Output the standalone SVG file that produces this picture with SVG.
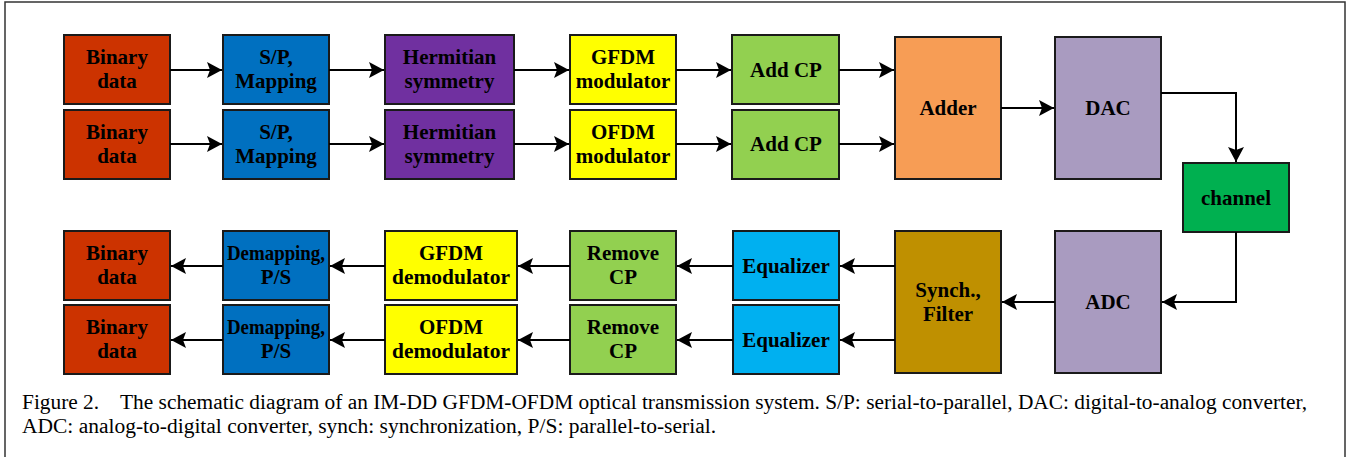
<svg xmlns="http://www.w3.org/2000/svg" width="1351" height="457" viewBox="0 0 1351 457">
<defs>
<marker id="ah" markerUnits="userSpaceOnUse" markerWidth="16" markerHeight="16" refX="15" refY="8" orient="auto">
<path d="M0,0 L15,8 L0,16 L3,8 Z" fill="#000"/>
</marker>
<style>
.b{stroke:#1a1a1a;stroke-width:2}
.t{font-family:"Liberation Serif","Times New Roman",serif;font-weight:bold;font-size:21px;fill:#000;text-anchor:middle}
.c{stroke:#000;stroke-width:2;fill:none}
.a{marker-end:url(#ah)}
.cap{font-family:"Liberation Serif","Times New Roman",serif;font-size:20px;fill:#000}
</style>
</defs>
<rect width="1351" height="457" fill="#fff"/>
<rect x="5" y="2" width="1340" height="470" fill="none" stroke="#333" stroke-width="1.5"/>

<g id="bin1"><rect class="b" x="64" y="35" width="106" height="69" fill="#CC3300"/><text class="t" x="117" y="64">Binary</text><text class="t" x="117" y="88">data</text></g>
<g id="bin2"><rect class="b" x="64" y="110" width="106" height="69" fill="#CC3300"/><text class="t" x="117" y="139">Binary</text><text class="t" x="117" y="163">data</text></g>
<g id="sp1"><rect class="b" x="223" y="35" width="106" height="69" fill="#0070C0"/><text class="t" x="276" y="64">S/P,</text><text class="t" x="276" y="88">Mapping</text></g>
<g id="sp2"><rect class="b" x="223" y="110" width="106" height="69" fill="#0070C0"/><text class="t" x="276" y="139">S/P,</text><text class="t" x="276" y="163">Mapping</text></g>
<g id="herm1"><rect class="b" x="385" y="35" width="129" height="69" fill="#7030A0"/><text class="t" x="449.5" y="64">Hermitian</text><text class="t" x="449.5" y="88">symmetry</text></g>
<g id="herm2"><rect class="b" x="385" y="110" width="129" height="69" fill="#7030A0"/><text class="t" x="449.5" y="139">Hermitian</text><text class="t" x="449.5" y="163">symmetry</text></g>
<g id="gmod"><rect class="b" x="570" y="35" width="106" height="69" fill="#FFFF00"/><text class="t" x="623" y="64">GFDM</text><text class="t" x="623" y="88">modulator</text></g>
<g id="omod"><rect class="b" x="570" y="110" width="106" height="69" fill="#FFFF00"/><text class="t" x="623" y="139">OFDM</text><text class="t" x="623" y="163">modulator</text></g>
<g id="acp1"><rect class="b" x="732" y="35" width="107" height="69" fill="#92D050"/><text class="t" x="786" y="77">Add CP</text></g>
<g id="acp2"><rect class="b" x="732" y="110" width="107" height="69" fill="#92D050"/><text class="t" x="786" y="151">Add CP</text></g>
<g id="adder"><rect class="b" x="895" y="37" width="106" height="142" fill="#F79D55"/><text class="t" x="948" y="115">Adder</text></g>
<g id="dac"><rect class="b" x="1055" y="37" width="106" height="142" fill="#A99BC0"/><text class="t" x="1108" y="115">DAC</text></g>
<g id="channel"><rect class="b" x="1183" y="163" width="106" height="69" fill="#00B050"/><text class="t" x="1236" y="205">channel</text></g>
<g id="adc"><rect class="b" x="1055" y="231" width="106" height="142" fill="#A99BC0"/><text class="t" x="1108" y="309">ADC</text></g>
<g id="synch"><rect class="b" x="895" y="231" width="106" height="142" fill="#BF9000"/><text class="t" x="948" y="297">Synch.,</text><text class="t" x="948" y="321">Filter</text></g>
<g id="eq1"><rect class="b" x="733" y="231" width="106" height="69" fill="#00B0F0"/><text class="t" x="786" y="273">Equalizer</text></g>
<g id="eq2"><rect class="b" x="733" y="305" width="106" height="69" fill="#00B0F0"/><text class="t" x="786" y="347">Equalizer</text></g>
<g id="rcp1"><rect class="b" x="570" y="231" width="106" height="69" fill="#92D050"/><text class="t" x="623" y="260">Remove</text><text class="t" x="623" y="284">CP</text></g>
<g id="rcp2"><rect class="b" x="570" y="305" width="106" height="69" fill="#92D050"/><text class="t" x="623" y="334">Remove</text><text class="t" x="623" y="358">CP</text></g>
<g id="gdem"><rect class="b" x="385" y="231" width="132" height="69" fill="#FFFF00"/><text class="t" x="451" y="260">GFDM</text><text class="t" x="451" y="284" textLength="118" lengthAdjust="spacingAndGlyphs">demodulator</text></g>
<g id="odem"><rect class="b" x="385" y="305" width="132" height="69" fill="#FFFF00"/><text class="t" x="451" y="334">OFDM</text><text class="t" x="451" y="358" textLength="118" lengthAdjust="spacingAndGlyphs">demodulator</text></g>
<g id="dm1"><rect class="b" x="223" y="231" width="106" height="69" fill="#0070C0"/><text class="t" x="276" y="260" textLength="98" lengthAdjust="spacingAndGlyphs">Demapping,</text><text class="t" x="276" y="284">P/S</text></g>
<g id="dm2"><rect class="b" x="223" y="305" width="106" height="69" fill="#0070C0"/><text class="t" x="276" y="334" textLength="98" lengthAdjust="spacingAndGlyphs">Demapping,</text><text class="t" x="276" y="358">P/S</text></g>
<g id="bin3"><rect class="b" x="64" y="231" width="106" height="69" fill="#CC3300"/><text class="t" x="117" y="260">Binary</text><text class="t" x="117" y="284">data</text></g>
<g id="bin4"><rect class="b" x="64" y="305" width="106" height="69" fill="#CC3300"/><text class="t" x="117" y="334">Binary</text><text class="t" x="117" y="358">data</text></g>

<g id="connectors">
<line class="c a" x1="170" y1="70" x2="222" y2="70"/>
<line class="c a" x1="170" y1="144" x2="222" y2="144"/>
<line class="c a" x1="329" y1="70" x2="384" y2="70"/>
<line class="c a" x1="329" y1="144" x2="384" y2="144"/>
<line class="c a" x1="514" y1="70" x2="569" y2="70"/>
<line class="c a" x1="514" y1="144" x2="569" y2="144"/>
<line class="c a" x1="676" y1="70" x2="731" y2="70"/>
<line class="c a" x1="676" y1="144" x2="731" y2="144"/>
<line class="c a" x1="839" y1="70" x2="894" y2="70"/>
<line class="c a" x1="839" y1="144" x2="894" y2="144" stroke-width="2.5"/>
<line class="c a" x1="1001" y1="108" x2="1054" y2="108" stroke-width="2.5"/>
<polyline class="c a" points="1161,93 1236,93 1236,162"/>
<polyline class="c a" points="1236,232 1236,302 1162,302"/>
<line class="c a" x1="1055" y1="302" x2="1002" y2="302"/>
<line class="c a" x1="895" y1="266" x2="840" y2="266"/>
<line class="c a" x1="895" y1="340" x2="840" y2="340"/>
<line class="c a" x1="733" y1="266" x2="677" y2="266"/>
<line class="c a" x1="733" y1="340" x2="677" y2="340"/>
<line class="c a" x1="570" y1="266" x2="518" y2="266"/>
<line class="c a" x1="570" y1="340" x2="518" y2="340"/>
<line class="c a" x1="385" y1="266" x2="330" y2="266"/>
<line class="c a" x1="385" y1="340" x2="330" y2="340"/>
<line class="c a" x1="223" y1="266" x2="171" y2="266"/>
<line class="c a" x1="223" y1="340" x2="171" y2="340"/>
</g>

<g id="caption">
<text class="cap" x="22" y="409" xml:space="preserve" textLength="1285" lengthAdjust="spacingAndGlyphs">Figure 2.    The schematic diagram of an IM-DD GFDM-OFDM optical transmission system. S/P: serial-to-parallel, DAC: digital-to-analog converter,</text>
<text class="cap" x="22" y="433" textLength="694" lengthAdjust="spacingAndGlyphs">ADC: analog-to-digital converter, synch: synchronization, P/S: parallel-to-serial.</text>
</g>
</svg>
